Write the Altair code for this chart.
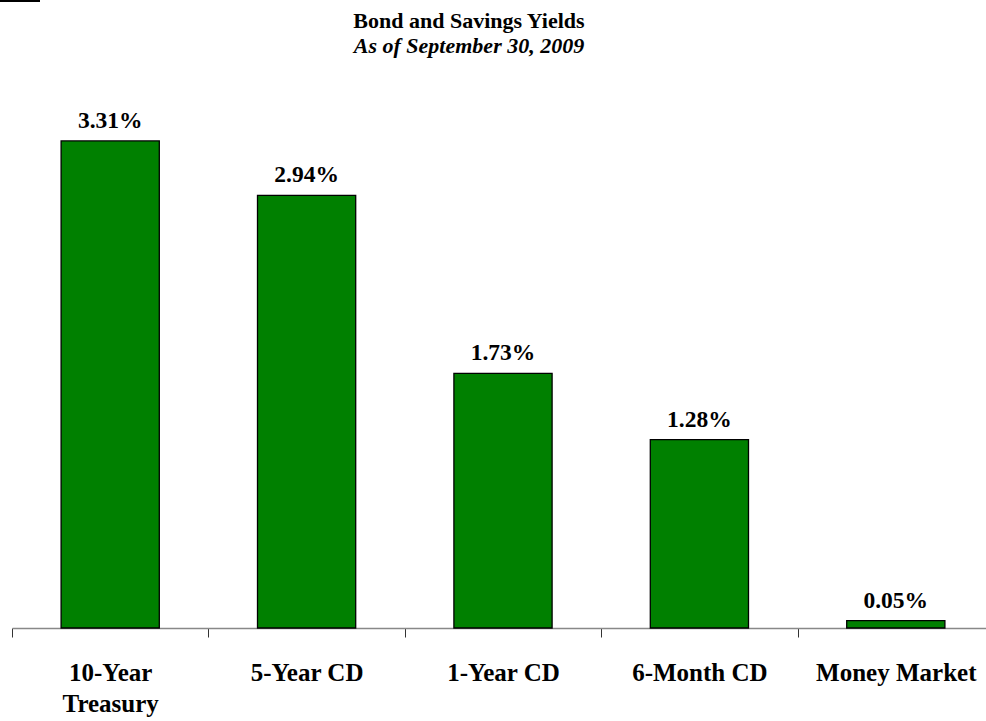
import altair as alt
import pandas as pd

categories = ["10-Year Treasury", "5-Year CD", "1-Year CD", "6-Month CD", "Money Market"]
yields = [3.31, 2.94, 1.73, 1.28, 0.05]

title_text = ["Bond and Savings Yields"]
subtitle_text = ["As of September 30, 2009"]

FONT = "Liberation Serif"

df = pd.DataFrame({"category": categories, "yield": yields})

x_enc = alt.X(
    "category:N",
    sort=categories,
    scale=alt.Scale(range=[0, 982], paddingInner=0, paddingOuter=0),
    axis=alt.Axis(
        title=None,
        labelAngle=0,
        tickBand="extent",
        tickSize=9,
        tickColor="#333333",
        tickWidth=1,
        domainColor="#888888",
        domainWidth=1.5,
        labelFont=FONT,
        labelFontSize=25,
        labelFontWeight="bold",
        labelColor="black",
        labelPadding=23,
        labelLineHeight=31,
        labelLimit=400,
        labelOverlap=False,
        labelExpr="datum.label == '10-Year Treasury' ? ['10-Year', 'Treasury'] : datum.label",
    ),
)
y_enc = alt.Y("yield:Q", scale=alt.Scale(domain=[0, 3.5]), axis=None)

base = alt.Chart(df)

bars = base.mark_bar(
    width=alt.RelativeBandSize(0.5),
    color="#008000",
    stroke="black",
    strokeWidth=1.3,
).encode(x=x_enc, y=y_enc)

labels = base.transform_calculate(
    lab="format(datum.yield, '.2f') + '%'"
).mark_text(
    dy=-13,
    baseline="alphabetic",
    font=FONT,
    fontSize=23.5,
    fontWeight="bold",
    color="black",
).encode(x=alt.X("category:N", sort=categories), y=y_enc, text="lab:N")

title = alt.Chart(pd.DataFrame({"t": title_text})).mark_text(
    font=FONT, fontSize=22, fontWeight="bold", color="black", baseline="alphabetic", align="center"
).encode(text="t:N", x=alt.value(457), y=alt.value(28 - 113))

subtitle = alt.Chart(pd.DataFrame({"t": subtitle_text})).mark_text(
    font=FONT, fontSize=22, fontWeight="bold", fontStyle="italic", color="black",
    baseline="alphabetic", align="center"
).encode(text="t:N", x=alt.value(457), y=alt.value(53 - 113))

corner = alt.Chart(pd.DataFrame({"t": [0]})).mark_rule(color="black", strokeWidth=2).encode(
    x=alt.value(-12), x2=alt.value(28), y=alt.value(-112)
)

chart = alt.layer(bars, labels, title, subtitle, corner).properties(
    width=974,
    height=515,
    padding={"left": 12, "top": 113, "right": 0, "bottom": 93},
    autosize=alt.AutoSizeParams(type="none"),
    background="white",
).configure_view(stroke=None)

chart.save("out.html", embed_options={"renderer": "svg", "actions": False})
